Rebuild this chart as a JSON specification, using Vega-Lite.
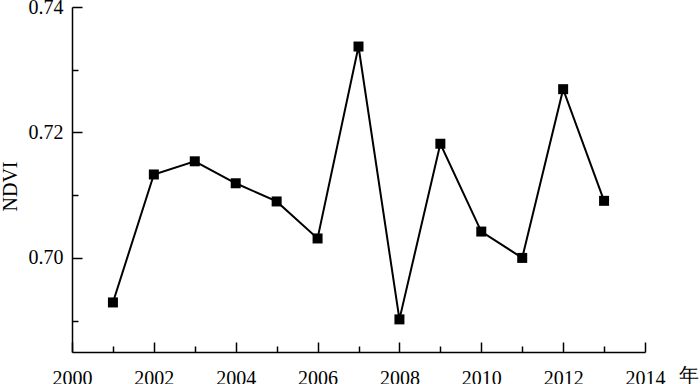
{
  "$schema": "https://vega.github.io/schema/vega-lite/v6.json",
  "autosize": "none",
  "padding": {"left": 72, "top": 7, "right": 55, "bottom": 32},
  "width": 573,
  "height": 345,
  "background": "white",
  "config": {
    "view": {"stroke": null},
    "font": "Liberation Serif",
    "axis": {
      "grid": false,
      "domainColor": "black",
      "domainWidth": 1.5,
      "tickColor": "black",
      "tickWidth": 1.5,
      "labelColor": "black",
      "titleColor": "black",
      "labelFont": "Liberation Serif",
      "titleFont": "Liberation Serif",
      "labelFontSize": 20,
      "titleFontSize": 20,
      "titleFontWeight": "normal"
    }
  },
  "data": {
    "values": [
      {"year": 2001, "ndvi": 0.6929},
      {"year": 2002, "ndvi": 0.7133},
      {"year": 2003, "ndvi": 0.7154},
      {"year": 2004, "ndvi": 0.7119},
      {"year": 2005, "ndvi": 0.7090},
      {"year": 2006, "ndvi": 0.7031},
      {"year": 2007, "ndvi": 0.7337},
      {"year": 2008, "ndvi": 0.6902},
      {"year": 2009, "ndvi": 0.7182},
      {"year": 2010, "ndvi": 0.7042},
      {"year": 2011, "ndvi": 0.7000},
      {"year": 2012, "ndvi": 0.7269},
      {"year": 2013, "ndvi": 0.7091}
    ]
  },
  "mark": {
    "type": "line",
    "color": "black",
    "strokeWidth": 2,
    "point": {"shape": "square", "size": 100, "filled": true, "color": "black", "opacity": 1}
  },
  "encoding": {
    "x": {
      "field": "year",
      "type": "quantitative",
      "scale": {"domain": [2000, 2014], "nice": false, "zero": false},
      "axis": {
        "values": [2000, 2001, 2002, 2003, 2004, 2005, 2006, 2007, 2008, 2009, 2010, 2011, 2012, 2013, 2014],
        "format": "d",
        "labelExpr": "datum.value % 2 === 0 ? datum.label : ''",
        "tickSize": {"condition": {"test": "datum.value % 2 === 0", "value": -10}, "value": -6},
        "labelPadding": 26,
        "labelFlush": false,
        "labelOverlap": false,
        "title": "年",
        "titleX": 616,
        "titleY": 23,
        "titleAlign": "center",
        "titleBaseline": "middle"
      }
    },
    "y": {
      "field": "ndvi",
      "type": "quantitative",
      "scale": {"domain": [0.685, 0.74], "nice": false, "zero": false},
      "axis": {
        "values": [0.69, 0.70, 0.71, 0.72, 0.73, 0.74],
        "format": ".2f",
        "labelExpr": "round(datum.value * 100) % 2 === 0 ? datum.label : ''",
        "tickSize": {"condition": {"test": "round(datum.value * 100) % 2 === 0", "value": -10}, "value": -6},
        "labelPadding": 19,
        "labelFlush": false,
        "labelOverlap": false,
        "title": "NDVI",
        "titleX": -62,
        "titleY": 179,
        "titleAngle": 270,
        "titleAlign": "center",
        "titleBaseline": "middle"
      }
    }
  }
}
